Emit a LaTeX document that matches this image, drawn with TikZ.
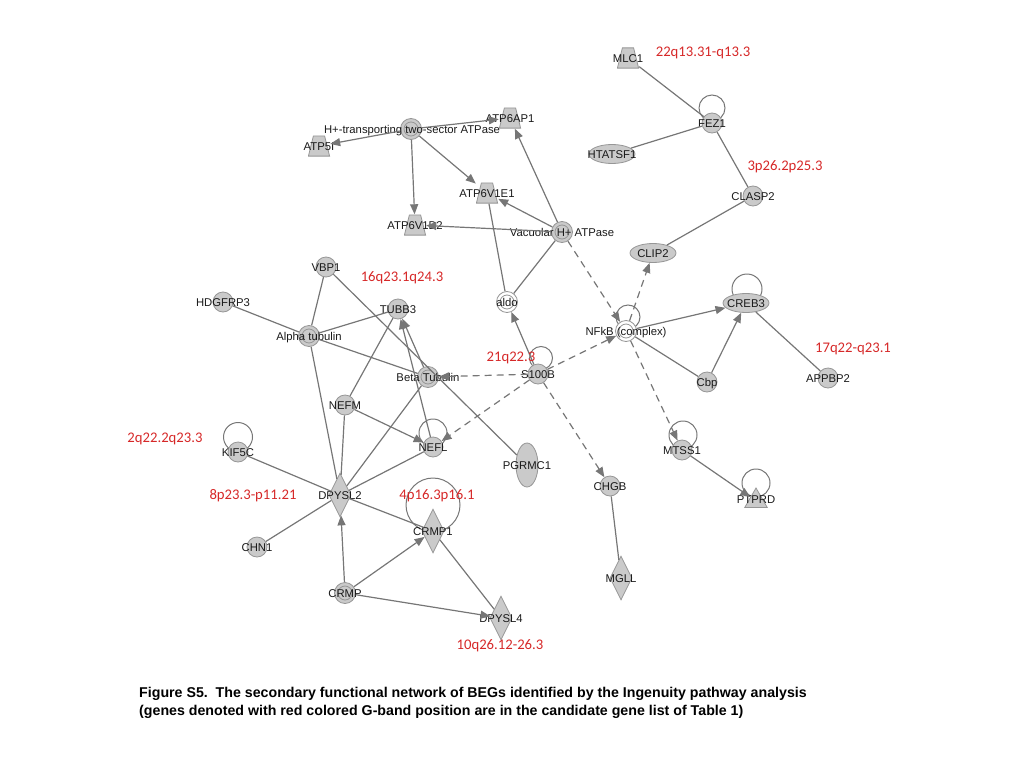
\documentclass[tikz,border=0pt]{standalone}
\usepackage{fontspec}
\setmainfont{Liberation Sans}
\newfontfamily\redfont{Carlito}
\usetikzlibrary{shapes.geometric,arrows.meta,backgrounds}
\definecolor{nfill}{RGB}{202,202,202}
\definecolor{nline}{RGB}{150,150,150}
\definecolor{eline}{RGB}{118,118,118}
\definecolor{gred}{RGB}{214,40,40}
\begin{document}
\begin{tikzpicture}[x=1pt,y=-1pt,
  lab/.style={font=\fontsize{11.3}{11.3}\selectfont, text=black!90, inner sep=0pt, text height=8.1pt, text depth=0pt},
  base/.style={draw=nline, fill=nfill, line width=0.8pt, inner sep=0pt},
  circ/.style={base, circle, minimum size=20pt},
  dbl/.style={base, circle, minimum size=21pt, path picture={\draw[nline,line width=0.8pt] (path picture bounding box.center) circle (7pt);}},
  wdbl/.style={dbl, fill=white},
  trap/.style={rectangle, inner sep=0pt, minimum width=22pt, minimum height=21pt,
    path picture={\filldraw[fill=nfill, draw=nline, line width=0.8pt]
      ([xshift=5.4pt,yshift=-0.4pt]path picture bounding box.north west) --
      ([xshift=-5.4pt,yshift=-0.4pt]path picture bounding box.north east) --
      ([xshift=-0.4pt,yshift=0.4pt]path picture bounding box.south east) --
      ([xshift=0.4pt,yshift=0.4pt]path picture bounding box.south west) -- cycle;}},
  ell/.style={base, ellipse, minimum width=46pt, minimum height=19pt},
  vell/.style={base, ellipse, minimum width=22pt, minimum height=44pt},
  dia/.style={base, diamond, minimum width=22pt, minimum height=44pt},
  tri/.style={base, regular polygon, regular polygon sides=3, minimum size=26pt},
  edge/.style={draw=eline, line width=1.2pt},
  arr/.style={edge, -{Triangle[length=10pt,width=8pt]}},
  dsh/.style={edge, dash pattern=on 7pt off 5pt},
  darr/.style={dsh, -{Triangle[length=10pt,width=8pt]}},
  selfloop/.style={draw=eline, line width=1pt},
  gband/.style={font=\redfont\fontsize{14.7}{14.7}\selectfont, text=gred, inner sep=0pt, text height=9.3pt, text depth=0pt},
  captxt/.style={font=\bfseries\fontsize{14.2}{18}\selectfont, inner sep=0pt, anchor=base west},
]
\useasboundingbox (0,0) rectangle (1024,768);

% nodes
\node[trap, label={[lab]center:MLC1}] (MLC1) at (628,58) {};
\node[circ, label={[lab]center:FEZ1}] (FEZ1) at (712,123) {};
\node[ell, label={[lab]center:HTATSF1}] (HTATSF1) at (612,154) {};
\node[circ, label={[lab]center:CLASP2}] (CLASP2) at (753,196) {};
\node[ell, label={[lab]center:CLIP2}] (CLIP2) at (653,253) {};
\node[dbl, label={[lab,xshift=1pt]center:H+-transporting two-sector ATPase}] (HATP) at (411,129) {};
\node[trap, label={[lab]center:ATP6AP1}] (ATP6AP1) at (510,118) {};
\node[trap, label={[lab]center:ATP5I}] (ATP5I) at (319,146) {};
\node[trap, label={[lab]center:ATP6V1E1}] (ATP6V1E1) at (487,193) {};
\node[trap, label={[lab]center:ATP6V1B2}] (ATP6V1B2) at (415,225) {};
\node[dbl, label={[lab]center:Vacuolar H+ ATPase}] (VATP) at (562,232) {};
\node[wdbl, label={[lab]center:aldo}] (aldo) at (507,302) {};
\node[circ, label={[lab]center:VBP1}] (VBP1) at (326,267) {};
\node[circ, label={[lab]center:HDGFRP3}] (HDGFRP3) at (223,302) {};
\node[circ, label={[lab]center:TUBB3}] (TUBB3) at (398,309) {};
\node[dbl, label={[lab]center:Alpha tubulin}] (Atub) at (309,336) {};
\node[dbl, label={[lab]center:Beta Tubulin}] (Btub) at (428,377) {};
\node[circ, label={[lab]center:S100B}] (S100B) at (538,374) {};
\node[wdbl, label={[lab]center:NFkB (complex)}] (NFkB) at (626,331) {};
\node[ell, label={[lab]center:CREB3}] (CREB3) at (746,303) {};
\node[circ, label={[lab]center:Cbp}] (Cbp) at (707,382) {};
\node[circ, label={[lab]center:APPBP2}] (APPBP2) at (828,378) {};
\node[circ, label={[lab]center:NEFM}] (NEFM) at (345,405) {};
\node[circ, label={[lab]center:NEFL}] (NEFL) at (433,447) {};
\node[vell, label={[lab]center:PGRMC1}] (PGRMC1) at (527,465) {};
\node[circ, label={[lab]center:CHGB}] (CHGB) at (610,486) {};
\node[circ, label={[lab]center:MTSS1}] (MTSS1) at (682,450) {};
\node[tri, label={[lab,yshift=2pt]center:PTPRD}] (PTPRD) at (756,501) {};
\node[circ, label={[lab]center:KIF5C}] (KIF5C) at (238,452) {};
\node[dia, label={[lab]center:DPYSL2}] (DPYSL2) at (340,495) {};
\node[dia, label={[lab]center:CRMP1}] (CRMP1) at (433,531) {};
\node[circ, label={[lab]center:CHN1}] (CHN1) at (257,547) {};
\node[dbl, label={[lab]center:CRMP}] (CRMP) at (345,593) {};
\node[dia, label={[lab]center:MGLL}] (MGLL) at (621,578) {};
\node[dia, label={[lab]center:DPYSL4}] (DPYSL4) at (501,618) {};

% self loops
\begin{scope}[on background layer]
\draw[selfloop] ([yshift=15pt]FEZ1.center) circle (13pt);
\draw[selfloop] ([xshift=1pt,yshift=14pt]CREB3.center) circle (15pt);
\draw[selfloop] ([xshift=2pt,yshift=14pt]NFkB.center) circle (12pt);
\draw[selfloop] ([xshift=3pt,yshift=16pt]S100B.center) circle (11.5pt);
\draw[selfloop] ([xshift=1pt,yshift=15pt]MTSS1.center) circle (14pt);
\draw[selfloop] ([yshift=18pt]PTPRD.center) circle (14pt);
\draw[selfloop] ([yshift=15pt]KIF5C.center) circle (14.5pt);
\draw[selfloop] ([yshift=14pt]NEFL.center) circle (14pt);
\draw[selfloop] ([yshift=26pt]CRMP1.center) circle (27pt);
\end{scope}

% edges
\draw[edge] (MLC1) -- (FEZ1);
\draw[edge] (FEZ1) -- (HTATSF1);
\draw[edge] (FEZ1) -- (CLASP2);
\draw[edge] (CLASP2) -- (CLIP2);
\draw[arr] (HATP) -- (ATP6AP1);
\draw[arr] (HATP) -- (ATP5I);
\draw[arr] (HATP) -- (ATP6V1B2);
\draw[arr] (HATP) -- (ATP6V1E1);
\draw[arr] (VATP) -- (ATP6AP1);
\draw[arr] (VATP) -- (ATP6V1E1);
\draw[arr] (VATP) -- (ATP6V1B2);
\draw[edge] (VATP) -- (aldo);
\draw[edge] (ATP6V1E1) -- (aldo);
\draw[darr] (VATP) -- (NFkB);
\draw[arr] (S100B) -- (aldo);
\draw[darr] (S100B) -- (NFkB);
\draw[darr] (S100B) -- (Btub);
\draw[darr] (S100B) -- (NEFL);
\draw[darr] (S100B) -- (CHGB);
\draw[darr] (NFkB) -- (CLIP2);
\draw[arr] (NFkB) -- (CREB3);
\draw[edge] (NFkB) -- (Cbp);
\draw[arr] (Cbp) -- (CREB3);
\draw[edge] (CREB3) -- (APPBP2);
\draw[darr] (NFkB) -- (MTSS1);
\draw[arr] (MTSS1) -- (PTPRD);
\draw[edge] (CHGB) -- (MGLL);
\draw[edge] (HDGFRP3) -- (Atub);
\draw[edge] (VBP1) -- (Atub);
\draw[edge] (VBP1) -- (PGRMC1);
\draw[edge] (Atub) -- (TUBB3);
\draw[edge] (Atub) -- (Btub);
\draw[edge] (Atub) -- (DPYSL2);
\draw[edge] (TUBB3) -- (NEFM);
\draw[arr] (NEFL) -- (TUBB3);
\draw[arr] (Btub) -- (TUBB3);
\draw[arr] (NEFM) -- (NEFL);
\draw[edge] (NEFM) -- (DPYSL2);
\draw[edge] (DPYSL2) -- (Btub);
\draw[edge] (DPYSL2) -- (NEFL);
\draw[edge] (KIF5C) -- (DPYSL2);
\draw[edge] (CHN1) -- (DPYSL2);
\draw[edge] (DPYSL2) -- (CRMP1);
\draw[arr] (CRMP) -- (DPYSL2);
\draw[arr] (CRMP) -- (CRMP1);
\draw[arr] (CRMP) -- (DPYSL4);
\draw[edge] (CRMP1) -- (DPYSL4);

% G-band positions
\node[gband] (g1) at (703,52) {22q13.31-q13.3};
\node[gband] (g2) at (785,166) {3p26.2p25.3};
\node[gband] (g3) at (402,277) {16q23.1q24.3};
\node[gband] (g4) at (511,357) {21q22.3};
\node[gband] (g5) at (853,348) {17q22-q23.1};
\node[gband] (g6) at (165,438) {2q22.2q23.3};
\node[gband] (g7) at (253,495) {8p23.3-p11.21};
\node[gband] (g8) at (437,495) {4p16.3p16.1};
\node[gband] (g9) at (500,645) {10q26.12-26.3};

% caption
\node[captxt] (cap1) at (139,697) {Figure S5.\ \ The secondary functional network of BEGs identified by the Ingenuity pathway analysis};
\node[captxt] (cap2) at (139,715) {(genes denoted with red colored G-band position are in the candidate gene list of Table 1)};
\end{tikzpicture}
\end{document}
